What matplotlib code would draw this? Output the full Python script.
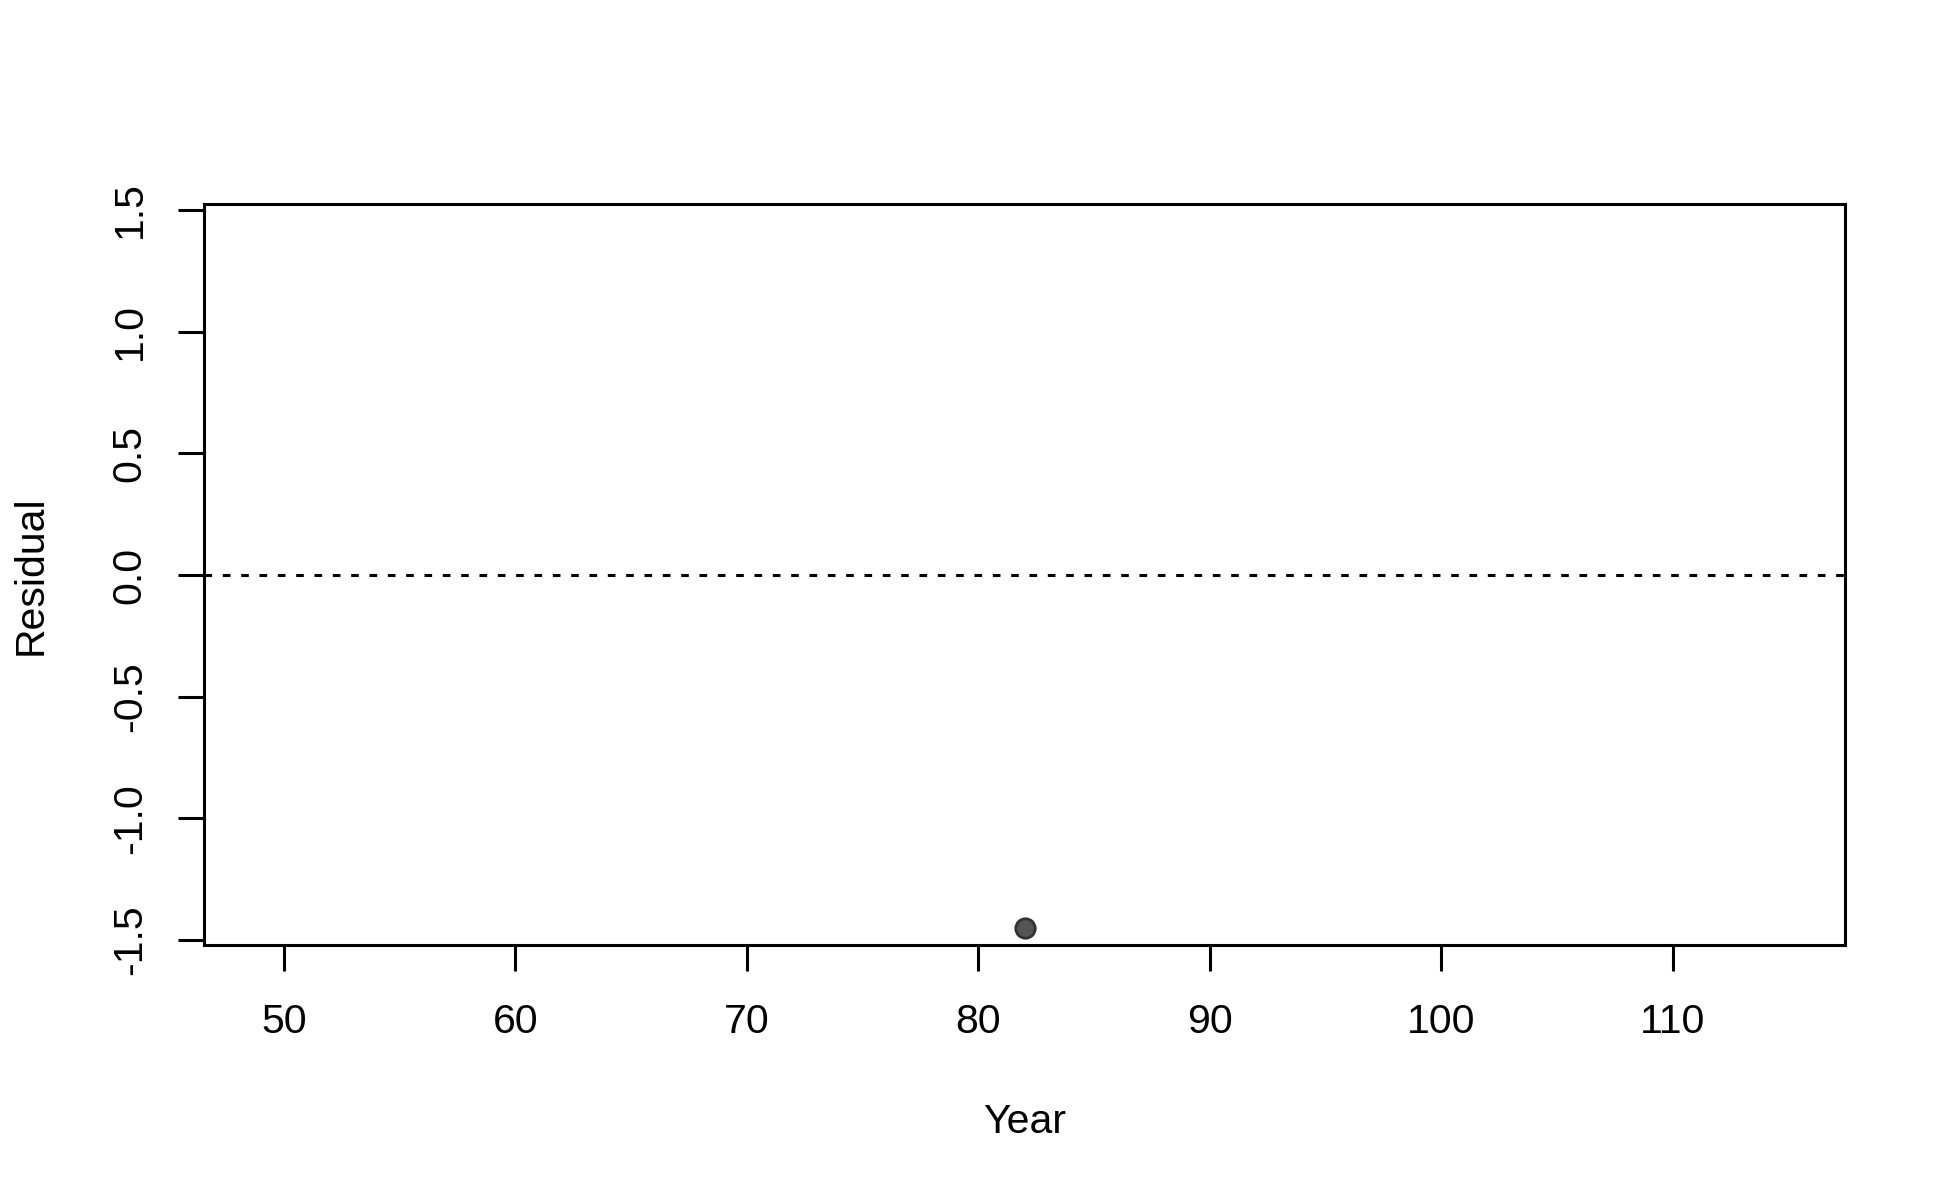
import numpy as np
import matplotlib
matplotlib.use('Agg')
import matplotlib.pyplot as plt

plt.rcParams['font.family'] = ['Liberation Sans', 'DejaVu Sans']

year = [82]
residual = [-1.45]
x_ticks = [50, 60, 70, 80, 90, 100, 110]
y_ticks = [-1.5, -1.0, -0.5, 0.0, 0.5, 1.0, 1.5]

fig = plt.figure(figsize=(19.5, 12), dpi=100)
ax = fig.add_axes([0.1048, 0.2125, 0.8411, 0.6173])

ax.plot(year, residual, 'o', ms=14, mfc='#555555', mec='#333333', mew=2)
ax.axhline(0, color='black', lw=2.2, ls=(0, (2.5, 3.5)))

ax.set_xlim(46.56, 117.42)
ax.set_ylim(-1.5206, 1.5234)
ax.set_xticks(x_ticks)
ax.set_xticklabels([str(t) for t in x_ticks])
ax.set_yticks(y_ticks)
ax.set_yticklabels([f'{t:.1f}' for t in y_ticks], rotation=90, va='center')

for s in ax.spines.values():
    s.set_linewidth(2.2)
ax.tick_params(axis='both', length=19, width=2.2, labelsize=29.5, direction='out')
ax.tick_params(axis='x', pad=23)
ax.tick_params(axis='y', pad=21)

fig.text(1025/1950, 1 - 1122/1200, 'Year', ha='center', va='center', fontsize=29.5)
fig.text(31/1950, 1 - 575/1200, 'Residual', ha='center', va='center', fontsize=29.5, rotation=90)

plt.savefig('out.png', dpi=100)
